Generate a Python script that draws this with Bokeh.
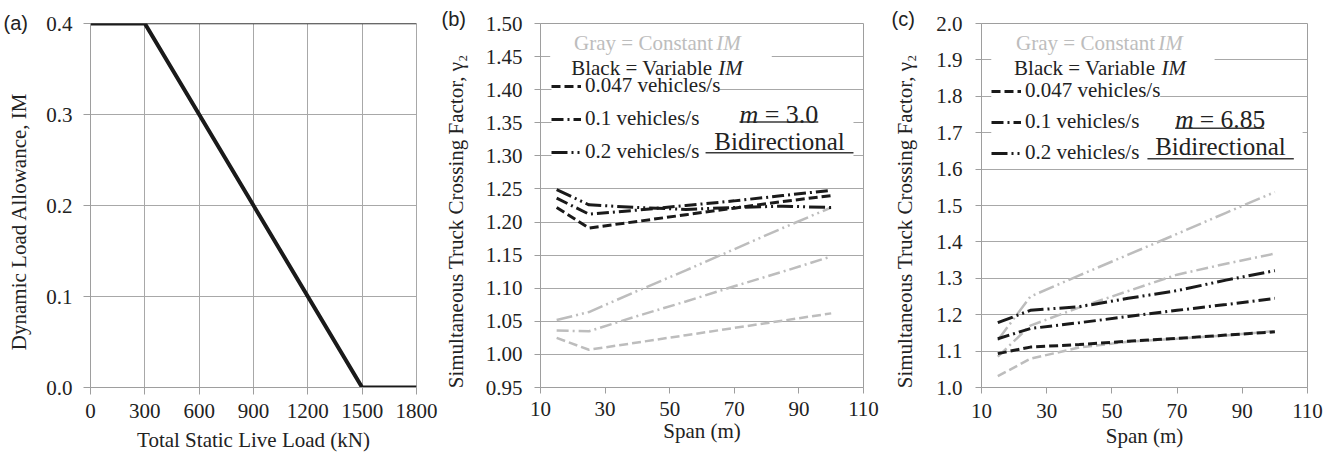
from bokeh.plotting import figure
from bokeh.layouts import row
from bokeh.models import (Range1d, FixedTicker, PrintfTickFormatter, Label,
                          BoxAnnotation, Span, Legend, LegendItem)
from bokeh.embed import file_html
from bokeh.resources import INLINE

# ---------------- data ----------------
# Panel (a): dynamic load allowance vs total static live load
load_kn = [0, 300, 1500, 1800]
im_values = [0.4, 0.4, 0.0, 0.0]
load_ticks = [0, 300, 600, 900, 1200, 1500, 1800]
im_ticks = [0.0, 0.1, 0.2, 0.3, 0.4]

# Panels (b), (c): simultaneous truck crossing factor vs span
span_m = [15, 25, 40, 55, 70, 85, 100]
span_ticks = [10, 30, 50, 70, 90, 110]
rate_labels = ["0.047 vehicles/s", "0.1 vehicles/s", "0.2 vehicles/s"]

# (b) m = 3.0
b_gray_047 = [1.025, 1.007, 1.018, 1.029, 1.040, 1.051, 1.062]
b_gray_01 = [1.036, 1.035, 1.058, 1.080, 1.103, 1.125, 1.148]
b_gray_02 = [1.052, 1.064, 1.096, 1.127, 1.159, 1.191, 1.222]
b_black_047 = [1.222, 1.191, 1.201, 1.211, 1.221, 1.231, 1.240]
b_black_01 = [1.236, 1.212, 1.218, 1.225, 1.232, 1.240, 1.248]
b_black_02 = [1.249, 1.226, 1.222, 1.219, 1.222, 1.224, 1.222]
b_ticks = [0.95, 1.00, 1.05, 1.10, 1.15, 1.20, 1.25, 1.30, 1.35, 1.40, 1.45, 1.50]

# (c) m = 6.85
c_gray_047 = [1.031, 1.079, 1.110, 1.126, 1.134, 1.143, 1.155]
c_gray_01 = [1.085, 1.170, 1.220, 1.265, 1.310, 1.340, 1.368]
c_gray_02 = [1.130, 1.250, 1.308, 1.365, 1.422, 1.480, 1.537]
c_black_047 = [1.093, 1.111, 1.118, 1.127, 1.135, 1.144, 1.153]
c_black_01 = [1.134, 1.162, 1.178, 1.195, 1.212, 1.228, 1.245]
c_black_02 = [1.178, 1.212, 1.222, 1.245, 1.266, 1.295, 1.321]
c_ticks = [1.0, 1.1, 1.2, 1.3, 1.4, 1.5, 1.6, 1.7, 1.8, 1.9, 2.0]

# ---------------- style ----------------
SERIF = "Liberation Serif"
SANS = "Liberation Sans"
TXT = "#222222"
AX = "#9e9e9e"
GRID = "#a8a8a8"
GRAY = "#bdbdbd"
BLACK = "#1a1a1a"
DASHES = ["9 4", "12 4 2 4", "16 4 2 4 2 4"]
PAD = "\u00a0" * 6   # shifts the rotated axis title slightly downwards, as in the original
NB = "\u00a0"


def style_axes(p, xlabel, ylabel, xticks, yticks, yfmt, st):
    p.xaxis.axis_label = xlabel
    p.yaxis.axis_label = ylabel
    p.xaxis.ticker = FixedTicker(ticks=xticks)
    p.yaxis.ticker = FixedTicker(ticks=yticks)
    p.yaxis.formatter = PrintfTickFormatter(format=yfmt)
    for ax in (p.xaxis[0], p.yaxis[0]):
        ax.axis_line_color = AX
        ax.major_tick_line_color = AX
        ax.minor_tick_line_color = None
        ax.major_tick_out = st["tick"]
        ax.major_tick_in = 0
        ax.major_label_text_font = SERIF
        ax.major_label_text_font_size = "21px"
        ax.major_label_text_color = TXT
        ax.axis_label_text_font = SERIF
        ax.axis_label_text_font_size = "21px"
        ax.axis_label_text_font_style = "normal"
        ax.axis_label_text_color = TXT
    p.xaxis.major_label_standoff = st["xs"]
    p.xaxis.axis_label_standoff = st["xa"]
    p.yaxis.major_label_standoff = st["ys"]
    p.yaxis.axis_label_standoff = st["ya"]
    p.background_fill_color = "white"
    p.border_fill_color = "white"


def panel_title(p, text, offset, standoff):
    p.title.text = text
    p.title.align = "left"
    p.title.offset = offset
    p.title.standoff = standoff
    p.title.vertical_align = "middle"
    p.title.text_font = SANS
    p.title.text_font_size = "20px"
    p.title.text_font_style = "normal"
    p.title.text_color = TXT


def mask(p, l, r, b, t):
    p.add_layout(BoxAnnotation(left=l, right=r, bottom=b, top=t, fill_color="white",
                               fill_alpha=1, line_color=None))


# ---------------- panel (a) ----------------
pa = figure(width=440, height=456, x_range=Range1d(0, 1800), y_range=Range1d(0, 0.4),
            output_backend="svg", toolbar_location=None,
            min_border_left=90, min_border_right=24, min_border_top=19, min_border_bottom=69)
style_axes(pa, "Total Static Live Load (kN)", "Dynamic Load Allowance, IM" + PAD,
           load_ticks, im_ticks, "%.1f", dict(tick=7, xs=9, xa=7, ys=11, ya=12))
pa.xgrid.grid_line_color = GRID
pa.ygrid.grid_line_color = GRID
pa.outline_line_color = GRID
pa.add_layout(Span(location=0.4, dimension="width", line_color="#2a2a2a", line_width=1.5))
pa.line(load_kn, im_values, line_color=BLACK, line_width=4)
panel_title(pa, "(a)", -87, -22)


# ---------------- panels (b), (c) ----------------
def truck_panel(width, bl, br, y0, y1, yticks, yfmt, gray, black, ann):
    p = figure(width=width, height=456, x_range=Range1d(10, 110), y_range=Range1d(y0, y1),
               output_backend="svg", toolbar_location=None,
               min_border_left=bl, min_border_right=br, min_border_top=23, min_border_bottom=67)
    style_axes(p, "Span (m)", "Simultaneous Truck Crossing Factor, \u03b3\u2082" + PAD,
               span_ticks, yticks, yfmt, ann["st"])
    p.xgrid.grid_line_color = None
    p.ygrid.grid_line_color = GRID
    p.outline_line_color = AX

    for vals, dash in zip(gray, DASHES):
        p.line(span_m, vals, line_color=GRAY, line_width=2.5, line_dash=dash)
    black_r = []
    for vals, dash in zip(black, DASHES):
        black_r.append(p.line(span_m, vals, line_color=BLACK, line_width=3, line_dash=dash))

    # white masks hiding the gridlines behind the legend, header text and text box
    for box in ann["masks"]:
        mask(p, *box)
    # underlines of the text box
    for (l, r, b, t) in ann["underlines"]:
        p.add_layout(BoxAnnotation(left=l, right=r, bottom=b, top=t, fill_color="#3a3a3a",
                                   fill_alpha=1, line_color=None))

    legend = Legend(items=[LegendItem(label=lab, renderers=[r]) for lab, r in zip(rate_labels, black_r)],
                    location=ann["legend_loc"], orientation="vertical",
                    label_text_font=SERIF, label_text_font_size="21px", label_text_color=TXT,
                    glyph_width=30, glyph_height=20, label_height=24, label_standoff=4,
                    spacing=ann["spacing"], padding=0, margin=0,
                    border_line_color=None, background_fill_alpha=0)
    p.add_layout(legend)

    hx, hy1, hy2, imx1, imx2 = ann["header"]
    common = dict(text_font=SERIF, text_font_size="21px", text_baseline="middle")
    p.add_layout(Label(x=hx[0], y=hy1, text="Gray = Constant", text_color=GRAY, **common))
    p.add_layout(Label(x=imx1, y=hy1, text="IM", text_font_style="italic", text_color=GRAY, **common))
    p.add_layout(Label(x=hx[1], y=hy2, text="Black = Variable", text_color=TXT, **common))
    p.add_layout(Label(x=imx2, y=hy2, text="IM", text_font_style="italic", text_color=TXT, **common))

    mx, mx2, my, mtext, msize = ann["m"]
    p.add_layout(Label(x=mx, y=my, text="m", text_font=SERIF, text_font_size=msize,
                       text_font_style="italic", text_color=TXT, text_baseline="middle"))
    p.add_layout(Label(x=mx2, y=my, text=mtext, text_font=SERIF, text_font_size=msize,
                       text_color=TXT, text_baseline="middle"))
    bx, by = ann["bidir"]
    p.add_layout(Label(x=bx, y=by, text="Bidirectional", text_font=SERIF, text_font_size="25px",
                       text_color=TXT, text_baseline="middle", text_align="center"))
    ptxt, poff, pstand = ann["panel"]
    panel_title(p, ptxt, poff, pstand)
    return p


ann_b = dict(
    st=dict(tick=6, xs=8, xa=0, ys=12, ya=15),
    masks=[(13, 81.6, 1.440, 1.462), (13.4, 65.4, 1.293, 1.412), (58.6, 106.9, 1.296, 1.384)],
    underlines=[(71.6, 96.0, 1.3500, 1.3523), (61.1, 106.9, 1.3035, 1.3058)],
    legend_loc=(11, 223), spacing=8,
    header=((20.4, 19.5), 1.4699, 1.4324, 64.4, 65.0),
    m=(71.6, 77.4, 1.3625, NB + "= 3.0", "26px"),
    bidir=(84.0, 1.3219),
    panel=("(b)", -99, -14),
)
ann_c = dict(
    st=dict(tick=6, xs=10, xa=3, ys=13, ya=16),
    masks=[(13, 81.5, 1.885, 1.915), (13.0, 64.8, 1.62, 1.815), (59.4, 108.5, 1.617, 1.776)],
    underlines=[(69.4, 96.7, 1.7103, 1.7144), (60.9, 105.8, 1.6264, 1.6305)],
    legend_loc=(10, 222), spacing=6,
    header=((20.6, 20.0), 1.9454, 1.877, 64.2, 65.2),
    m=(69.4, 75.0, 1.7363, NB + "= 6.85", "25.5px"),
    bidir=(83.3, 1.6623),
    panel=("(c)", -90, -14),
)

pb = truck_panel(450, 96, 27, 0.95, 1.50, b_ticks, "%.2f",
                 [b_gray_047, b_gray_01, b_gray_02], [b_black_047, b_black_01, b_black_02], ann_b)
pc = truck_panel(444, 87, 27, 1.0, 2.0, c_ticks, "%.1f",
                 [c_gray_047, c_gray_01, c_gray_02], [c_black_047, c_black_01, c_black_02], ann_c)

layout = row(pa, pb, pc)
open("out.html", "w").write(file_html(layout, INLINE))
